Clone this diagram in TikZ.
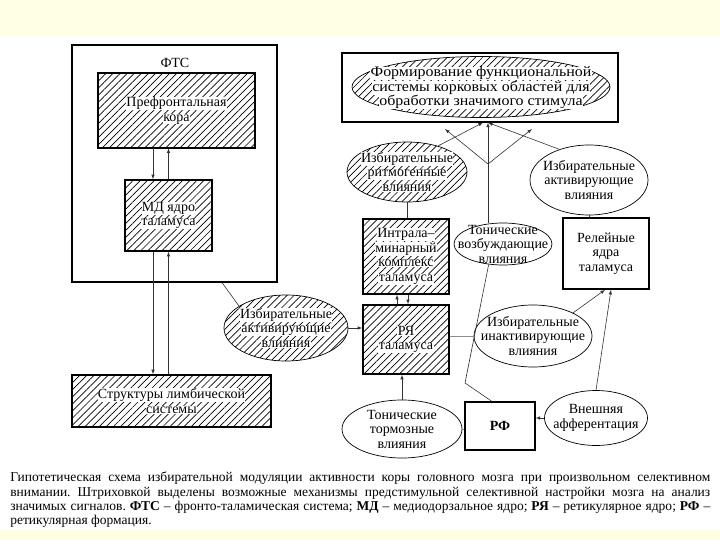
\documentclass[tikz,border=0pt]{standalone}
\usepackage{fontspec}
\setmainfont{Liberation Serif}
\newfontfamily\widefont{Liberation Serif}[FakeStretch=1.1]
\usetikzlibrary{shapes.geometric,patterns.meta}
\definecolor{paper}{RGB}{255,255,228}
\newcommand{\wt}[1]{{\fboxsep=0.4pt\colorbox{white}{#1}}}
\frenchspacing
\begin{document}
\begin{tikzpicture}[x=1pt,y=-1pt,>=latex,line width=0.6pt,
  every node/.style={align=center,font=\fontsize{14}{14.5}\selectfont},
  box/.style={draw,line width=1.2pt,inner sep=0pt},
  hbox/.style={box,line width=1.5pt,pattern={Lines[angle=45,distance=5pt,line width=0.7pt]}},
  oval/.style={draw,ellipse,line width=0.7pt,inner sep=0pt},
  hoval/.style={oval,pattern={Lines[angle=45,distance=5pt,line width=0.7pt]}},
  link/.style={draw=black!80,line width=0.6pt}]
\useasboundingbox (0,0) rectangle (720,540);
\fill[paper] (0,0) rectangle (720,540);
\fill[white] (0,36) rectangle (720,530);
\node[box,minimum width=205pt,minimum height=237pt] (fts) at (174.5,163.5) {};
\node (ftsname) at (175,63) {ФТС};
\node[hbox,minimum width=157pt,minimum height=75pt] (pfc) at (176.5,110.5) {\wt{Префронтальная}\\\wt{кора}};
\node[hbox,minimum width=87pt,minimum height=71pt] (md) at (168.5,215.5) {\wt{МД ядро}\\\wt{таламуса}};
\node[hbox,minimum width=199pt,minimum height=52pt] (limb) at (171.5,401) {\wt{Структуры лимбической}\\\wt{системы}};
\node[hoval,minimum width=124pt,minimum height=66pt,label={center:{\wt{Избирательные}\\\wt{активирующие}\\\wt{влияния}}}] (actL) at (286,328) {};
\node[box,minimum width=276pt,minimum height=69pt] (goal) at (480,87.5) {};
\node[hoval,minimum width=258pt,minimum height=61pt,label={[font=\widefont\fontsize{14.5}{14.5}\selectfont,yshift=-1pt]center:{\wt{Формирование функциональной}\\\wt{системы корковых областей для}\\\wt{обработки значимого стимула}}}] (goalE) at (481,87) {};
\node[hoval,minimum width=120pt,minimum height=60pt,label={center:{\wt{Избирательные}\\\wt{ритмогенные}\\\wt{влияния}}}] (rhythm) at (407,172) {};
\node[hbox,minimum width=86pt,minimum height=75pt] (intra) at (406,256.5) {\wt{Интрала–}\\\wt{минарный}\\\wt{комплекс}\\\wt{таламуса}};
\node[hbox,minimum width=86pt,minimum height=69pt] (rja) at (406,339.5) {\wt{РЯ}\\\wt{таламуса}};
\node[oval,minimum width=118pt,minimum height=62pt,label={center:{Избирательные\\инактивирующие\\влияния}}] (inact) at (533,336) {};
\node[box,line width=1.6pt,minimum width=86pt,minimum height=71pt] (relay) at (606,253.5) {Релейные\\ядра\\таламуса};
\node[oval,minimum width=118pt,minimum height=70pt,label={center:{Избирательные\\активирующие\\влияния}}] (actR) at (589,180) {};
\node[oval,minimum width=98pt,minimum height=42pt,label={center:{Тонические\\возбуждающие\\влияния}}] (tonExc) at (503,244) {};
\node[box,minimum width=70pt,minimum height=48pt] (rf) at (500,426) {\textbf{РФ}};
\node[oval,minimum width=120pt,minimum height=58pt,label={center:{Тонические\\тормозные\\влияния}}] (tonInh) at (402,429) {};
\node[oval,minimum width=103pt,minimum height=55pt,label={center:{Внешняя\\афферентация}}] (aff) at (596,418) {};
\coordinate (fork) at (488,164);
\coordinate (forkL) at (445,129);
\coordinate (forkR) at (532,129);
\coordinate (bend) at (465,383);
\draw[link,->] ([xshift=-15.5pt]md.north |- pfc.south) -- ([xshift=-15.5pt]md.north);
\draw[link,->] (md.north) -- (md.north |- pfc.south);
\draw[link,->] ([xshift=-15.5pt]md.south) -- ([xshift=-15.5pt]md.south |- limb.north);
\draw[link,->] (md.south |- limb.north) -- (md.south);
\draw[link] ([xshift=47.5pt]fts.south) -- (actL.155);
\draw[link,->] (actL.east) -- (actL.east -| rja.west);
\draw[link,->] (rhythm.40) -- ([xshift=3pt]goal.south);
\draw[link,->] (actR.134) -- ([xshift=8pt]goal.south);
\draw[link,->] (tonExc.north -| fork) -- ([xshift=8pt]goal.south);
\draw[link,->] (fork) -- (forkL);
\draw[link,->] (fork) -- (forkR);
\draw[link] (rhythm.south) -- (rhythm.south |- intra.north);
\draw[link,->] ([xshift=-9pt]rja.north) -- ([xshift=-9pt]intra.south);
\draw[link,->] ([xshift=2pt]intra.south) -- ([xshift=2pt]rja.north);
\draw[link,draw=black!45] (inact.west -| rja.east) -- (inact.west);
\draw[link,->] (inact.30) -- ([xshift=-1pt]relay.south);
\draw[link] (actR.south) -- (actR.south |- relay.north);
\draw[link,->] (aff.north) -- ([xshift=5pt]relay.south);
\draw[link,->] (aff.west) -- (aff.west -| rf.east);
\draw[link] (tonExc.235) -- (bend) -- ([xshift=-8pt]rf.north);
\draw[link,->] (tonInh.north) -- (tonInh.north |- rja.south);
\draw[link,draw=black!45] (tonInh.east) -- (tonInh.east -| rf.west);
\node[anchor=north west,inner sep=0pt,align=left,font=\fontsize{13.5}{14.2}\selectfont] (caption) at (10,472)
  {\makebox[700pt][s]{Гипотетическая схема избирательной модуляции активности коры головного мозга при произвольном селективном}\\
   \makebox[700pt][s]{внимании. Штриховкой выделены возможные механизмы предстимульной селективной настройки мозга на анализ}\\
   \makebox[700pt][s]{значимых сигналов. \textbf{ФТС} – фронто-таламическая система; \textbf{МД} – медиодорзальное ядро; \textbf{РЯ} – ретикулярное ядро; \textbf{РФ} –}\\
   ретикулярная формация.};
\end{tikzpicture}
\end{document}
